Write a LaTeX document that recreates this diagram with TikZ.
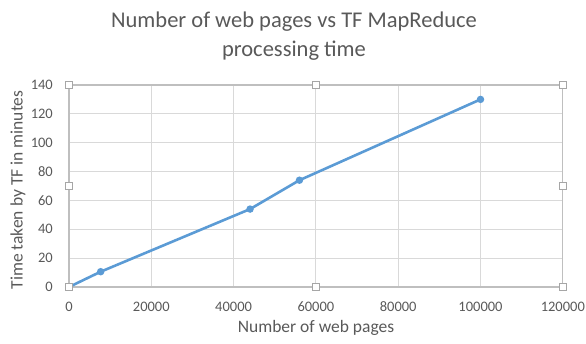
\documentclass[tikz,border=0pt]{standalone}
\usepackage{fontspec}
\setmainfont{Carlito}
\definecolor{textgray}{HTML}{595959}
\definecolor{gridgray}{HTML}{D9D9D9}
\definecolor{framegray}{HTML}{BFBFBF}
\definecolor{handlegray}{HTML}{A6A6A6}
\definecolor{seriesblue}{HTML}{5B9BD5}
\begin{document}
\begin{tikzpicture}[x=1pt,y=1pt,
  txt/.style={text=textgray, inner sep=0pt},
  ticklab/.style={txt, font=\fontsize{14.5}{16}\selectfont},
  axtitle/.style={txt, font=\fontsize{17.5}{20}\selectfont},
  gridline/.style={draw=gridgray, line width=0.9pt},
  frameline/.style={draw=framegray, line width=1.2pt},
  series/.style={draw=seriesblue, line width=2.6pt, line cap=round, line join=round},
  datapt/.style={circle, fill=seriesblue, inner sep=0pt, minimum size=7.5pt},
  handle/.style={draw=handlegray, fill=white, line width=0.9pt, inner sep=0pt, minimum size=7pt, rectangle}]
\useasboundingbox (0,0) rectangle (586,343);
% title
\node[txt, font=\fontsize{22.5}{26}\selectfont, anchor=base] (t1) at (294,315.5) {Number of web pages vs TF MapReduce};
\node[txt, font=\fontsize{22.5}{26}\selectfont, anchor=base] (t2) at (294,286) {processing time};
% axis titles
\node[axtitle, rotate=90] (ytitle) at (18,153) {Time taken by TF in minutes};
\node[axtitle] (xtitle) at (316,15) {Number of web pages};
\begin{scope}[shift={(69,56)}, x=4.115pt, y=1.443pt]
  % grid
  \foreach \gx in {20,40,...,100} \draw[gridline] (\gx,0) -- (\gx,140);
  \foreach \gy in {20,40,...,120} \draw[gridline] (0,\gy) -- (120,\gy);
  % frame
  \draw[frameline] (0,0) rectangle (120,140);
  % y tick labels
  \foreach \v in {0,20,...,140} \node[ticklab, anchor=east] (ylab\v) at ([xshift=-16pt]0,\v) {\v};
  % x tick labels
  \node[ticklab] (xlab0) at ([yshift=-20pt]0,0) {0};
  \node[ticklab] (xlab1) at ([yshift=-20pt]20,0) {20000};
  \node[ticklab] (xlab2) at ([yshift=-20pt]40,0) {40000};
  \node[ticklab] (xlab3) at ([yshift=-20pt]60,0) {60000};
  \node[ticklab] (xlab4) at ([yshift=-20pt]80,0) {80000};
  \node[ticklab] (xlab5) at ([yshift=-20pt]100,0) {100000};
  \node[ticklab] (xlab6) at ([yshift=-20pt]120,0) {120000};
  % data
  \coordinate (p0) at (0,0);
  \node[datapt] (p1) at (7.7,10.6) {};
  \node[datapt] (p2) at (44,54) {};
  \node[datapt] (p3) at (56,74) {};
  \node[datapt] (p4) at (100,130) {};
  \draw[series] (p0) -- (p1.center) -- (p2.center) -- (p3.center) -- (p4.center);
  % selection handles
  \node[handle] (h1) at (0,0) {};
  \node[handle] (h2) at (60,0) {};
  \node[handle] (h3) at (120,0) {};
  \node[handle] (h4) at (0,70) {};
  \node[handle] (h5) at (120,70) {};
  \node[handle] (h6) at (0,140) {};
  \node[handle] (h7) at (60,140) {};
  \node[handle] (h8) at (120,140) {};
\end{scope}
\end{tikzpicture}
\end{document}
